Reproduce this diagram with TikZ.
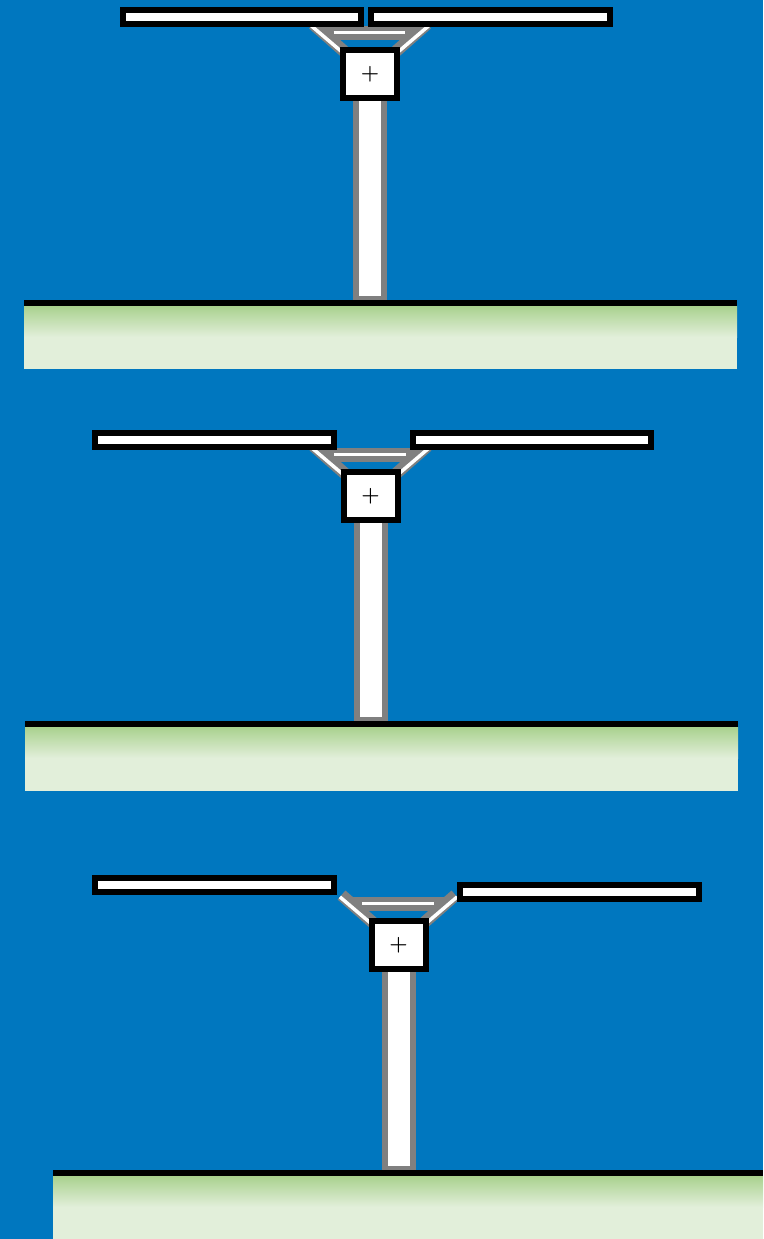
\documentclass[tikz,border=0pt]{standalone}
\definecolor{sky}{RGB}{0,119,191}
\definecolor{grassdark}{RGB}{169,209,142}
\definecolor{grasslight}{RGB}{226,239,218}
\definecolor{steel}{RGB}{128,128,128}
\tikzset{
  panelbar/.style={draw=black, line width=6pt, fill=white},
  postbody/.style={draw=steel, line width=6pt, fill=white},
  strutgrey/.style={draw=steel, line width=12pt},
  beamgrey/.style={draw=steel, line width=14pt},
  hangerwhite/.style={draw=white, line width=3.5pt},
  headbox/.style={draw=black, line width=6pt, fill=white, minimum width=54pt,
    minimum height=48pt, inner sep=0pt, font=\fontsize{21}{21}\selectfont\bfseries},
}
% #1 = centre x, #2 = top of head box, #3 = ground level, #4 = name suffix
\newcommand{\towerunit}[4]{%
  % hanger frame: two struts and a cross beam
  \draw[strutgrey] (#1-57,#2-23) -- (#1-24,#2+6);
  \draw[strutgrey] (#1+57,#2-23) -- (#1+24,#2+6);
  \draw[beamgrey] (#1-48,#2-14) -- (#1+48,#2-14);
  \draw[hangerwhite] (#1-58.6,#2-21.1) -- (#1-28,#2+5);
  \draw[hangerwhite] (#1+58.6,#2-21.1) -- (#1+28,#2+5);
  \draw[hangerwhite] (#1-36.5,#2-14.5) -- (#1+35,#2-14.5);
  % post
  \draw[postbody] (#1-14,#2+40) rectangle (#1+14,#3-1);
  % head
  \node[headbox] (head#4) at (#1,#2+27) {+};
}
% #1 left, #2 right, #3 ground top, #4 bottom
\newcommand{\groundstrip}[4]{%
  \fill[black] (#1,#3) rectangle (#2,#3+6);
  \shade[top color=grassdark, bottom color=grasslight] (#1,#3+6) rectangle (#2,#3+37);
  \fill[grasslight] (#1,#3+37) rectangle (#2,#4);
}
\begin{document}
\begin{tikzpicture}[x=1pt,y=-1pt]
  \fill[sky] (0,0) rectangle (763,1239);
  \useasboundingbox (0,0) rectangle (763,1239);

  % first arrangement
  \towerunit{370}{47}{300}{a}
  \draw[panelbar] (123,10) rectangle (361,24);
  \draw[panelbar] (371,10) rectangle (610,24);
  \groundstrip{24}{737}{300}{369}

  % second arrangement
  \towerunit{370.5}{469}{721}{b}
  \draw[panelbar] (95,433) rectangle (334,447);
  \draw[panelbar] (413,433) rectangle (651,447);
  \groundstrip{25}{738}{721}{791}

  % third arrangement
  \towerunit{398.5}{918}{1170}{c}
  \draw[panelbar] (95,878) rectangle (334,892);
  \draw[panelbar] (460,885) rectangle (699,899);
  \groundstrip{53}{763}{1170}{1239}
\end{tikzpicture}
\end{document}
